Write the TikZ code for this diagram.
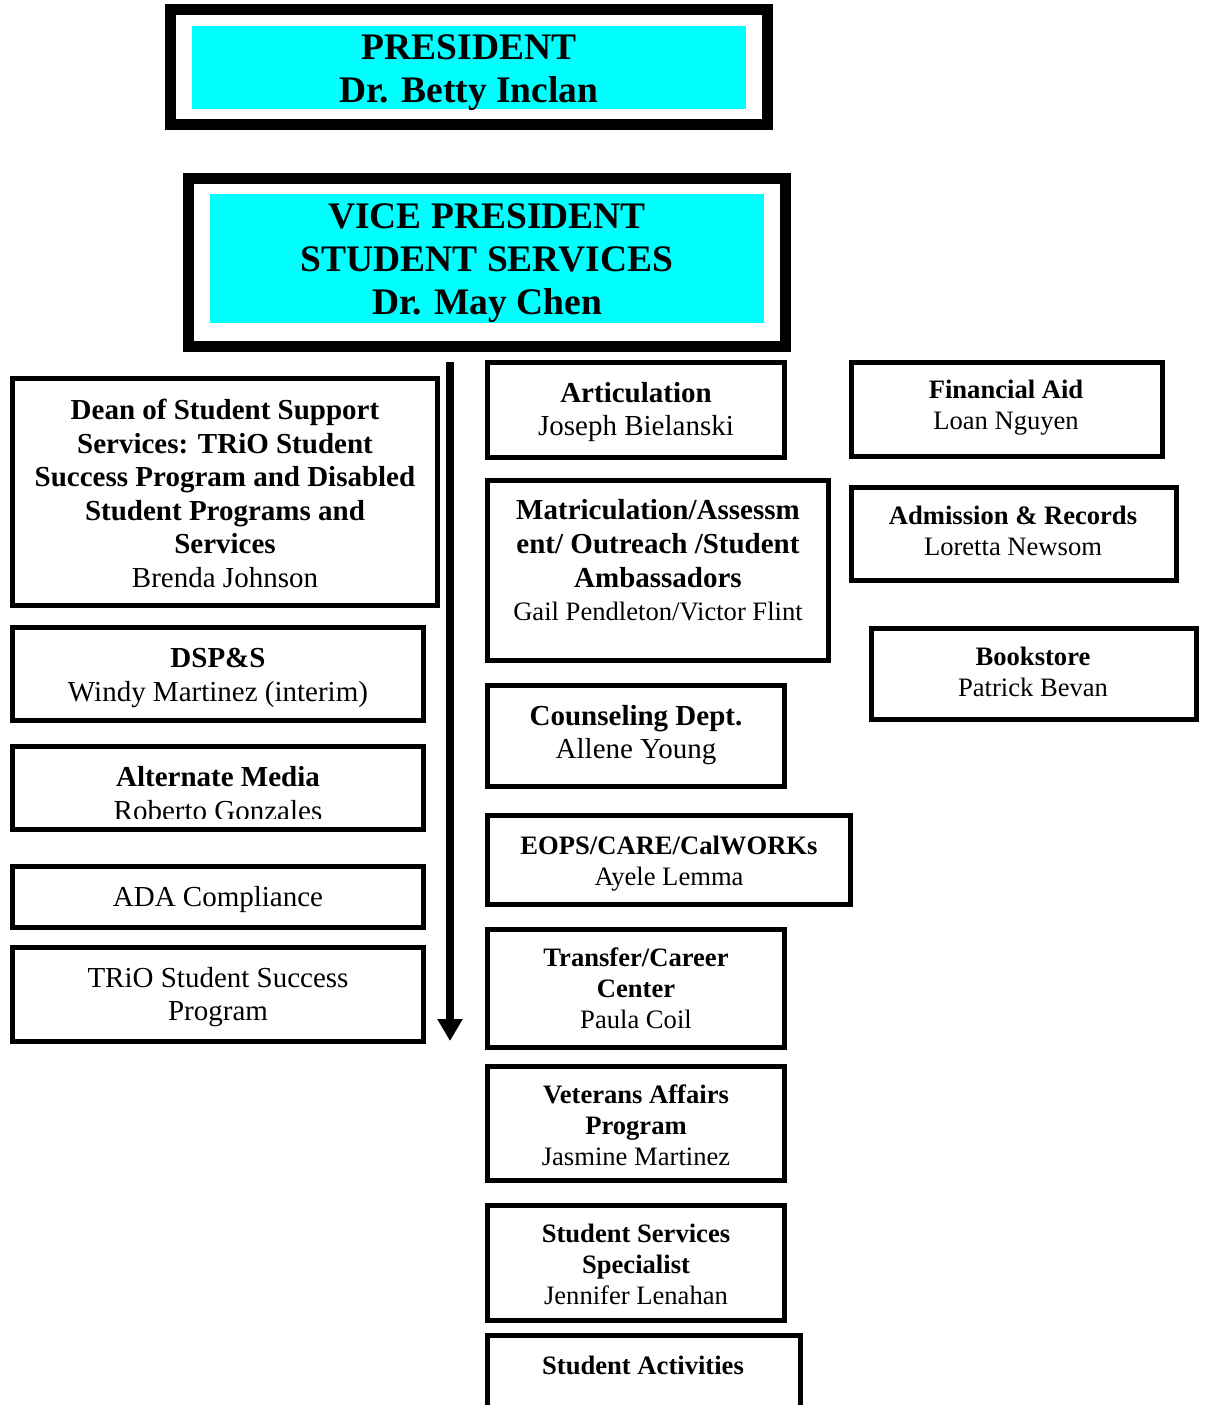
\documentclass[tikz,border=0pt]{standalone}
\usepackage{fontspec}
\setmainfont{Liberation Serif}
\usetikzlibrary{arrows.meta}
\definecolor{headcyan}{RGB}{0,255,255}
\tikzset{
  framebox/.style={
    rectangle, draw=black, line width=11pt, fill=white, inner sep=0pt
  },
  headfill/.style={rectangle, fill=headcyan, inner sep=0pt},
  headtext/.style={
    font=\fontsize{37.5}{43}\selectfont\bfseries, align=center, inner sep=0pt
  },
  unitbox/.style={rectangle, draw=black, line width=5pt, inner sep=0pt},
  bigtext/.style={
    font=\fontsize{29}{33.6}\selectfont, align=center, inner sep=0pt
  },
  smalltext/.style={
    font=\fontsize{26.6}{31}\selectfont, align=center, inner sep=0pt
  },
  downarrow/.style={-{Triangle[width=24pt,length=22pt]}, line width=8pt},
}

\begin{document}
\begin{tikzpicture}[x=1pt, y=-1pt]
    \useasboundingbox (0,0) rectangle (1206,1405);
    \clip (0,0) rectangle (1206,1405);

    % head of the chart
    \node[framebox, minimum width=597pt, minimum height=115pt] (pres) at (469,67) {};
    \node[headfill, minimum width=554pt, minimum height=83pt] (presfill) at (469,67.5) {};
    \node[headtext] (prestxt) at (469,73) {PRESIDENT\\Dr. Betty Inclan};

    \node[framebox, minimum width=597pt, minimum height=168pt] (vp) at (487,262.5) {};
    \node[headfill, minimum width=554pt, minimum height=129pt] (vpfill) at (487,258.5) {};
    \node[headtext] (vptxt) at (487,263) {VICE PRESIDENT\\STUDENT SERVICES\\Dr. May Chen};

    % left column
    \node[unitbox, minimum width=425pt, minimum height=227pt] (dean) at (225,492) {};
    \node[bigtext] (deantxt) at (225,493.5) {\textbf{Dean of Student Support}\\\textbf{Services: TRiO Student}\\\textbf{Success Program and Disabled}\\\textbf{Student Programs and}\\\textbf{Services}\\Brenda Johnson};

    \node[unitbox, minimum width=411pt, minimum height=93pt] (dsps) at (218,674) {};
    \node[bigtext] (dspstxt) at (218,678) {\textbf{DSP\&S}\\Windy Martinez (interim)};

    \node[unitbox, minimum width=411pt, minimum height=83pt] (altm) at (218,788) {};
    \begin{scope}
      \clip (10,744) rectangle (426,818);
      \node[bigtext] (altmtxt) at (218,793.5) {\textbf{Alternate Media}\\Roberto Gonzales};
    \end{scope}

    \node[unitbox, minimum width=411pt, minimum height=61pt] (ada) at (218,897) {};
    \node[bigtext] (adatxt) at (218,900) {ADA Compliance};

    \node[unitbox, minimum width=411pt, minimum height=94pt] (trio) at (218,994.5) {};
    \node[bigtext] (triotxt) at (218,997) {TRiO Student Success\\Program};

    % line of authority
    \coordinate (arrtop) at (450,362);
    \coordinate (arrtip) at (450,1041);
    \draw[downarrow] (arrtop) -- (arrtip);

    % middle column
    \node[unitbox, minimum width=297pt, minimum height=95pt] (artc) at (636,410) {};
    \node[bigtext] (artctxt) at (636,412) {\textbf{Articulation}\\Joseph Bielanski};

    \node[unitbox, minimum width=341pt, minimum height=180pt] (matr) at (658,570.5) {};
    \node[bigtext] (matrtxt) at (658,560.5) {\textbf{Matriculation/Assessm}\\\textbf{ent/ Outreach /Student}\\\textbf{Ambassadors}\\{\fontsize{26.6}{31}\selectfont Gail Pendleton/Victor Flint}};

    \node[unitbox, minimum width=297pt, minimum height=101pt] (coun) at (636,736) {};
    \node[bigtext] (countxt) at (636,735) {\textbf{Counseling Dept.}\\Allene Young};

    \node[unitbox, minimum width=363pt, minimum height=89pt] (eops) at (669,860) {};
    \node[smalltext] (eopstxt) at (669,863.5) {\textbf{EOPS/CARE/CalWORKs}\\Ayele Lemma};

    \node[unitbox, minimum width=297pt, minimum height=118pt] (tran) at (636,988.5) {};
    \node[smalltext] (trantxt) at (636,988) {\textbf{Transfer/Career}\\\textbf{Center}\\Paula Coil};

    \node[unitbox, minimum width=297pt, minimum height=114pt] (vets) at (636,1123.5) {};
    \node[smalltext] (vetstxt) at (636,1125) {\textbf{Veterans Affairs}\\\textbf{Program}\\Jasmine Martinez};

    \node[unitbox, minimum width=297pt, minimum height=115pt] (sss) at (636,1263) {};
    \node[smalltext] (ssstxt) at (636,1264) {\textbf{Student Services}\\\textbf{Specialist}\\Jennifer Lenahan};

    \node[unitbox, minimum width=313pt, minimum height=105pt] (sact) at (644,1388) {};
    \node[smalltext] (sacttxt) at (643,1365) {\textbf{Student Activities}};

    % right column
    \node[unitbox, minimum width=311pt, minimum height=94pt] (fina) at (1007,409.5) {};
    \node[smalltext] (finatxt) at (1006,407.5) {\textbf{Financial Aid}\\Loan Nguyen};

    \node[unitbox, minimum width=325pt, minimum height=93pt] (admr) at (1014,534) {};
    \node[smalltext] (admrtxt) at (1013,530.5) {\textbf{Admission \& Records}\\Loretta Newsom};

    \node[unitbox, minimum width=325pt, minimum height=91pt] (book) at (1034,674) {};
    \node[smalltext] (booktxt) at (1033,671.5) {\textbf{Bookstore}\\Patrick Bevan};
\end{tikzpicture}
\end{document}
